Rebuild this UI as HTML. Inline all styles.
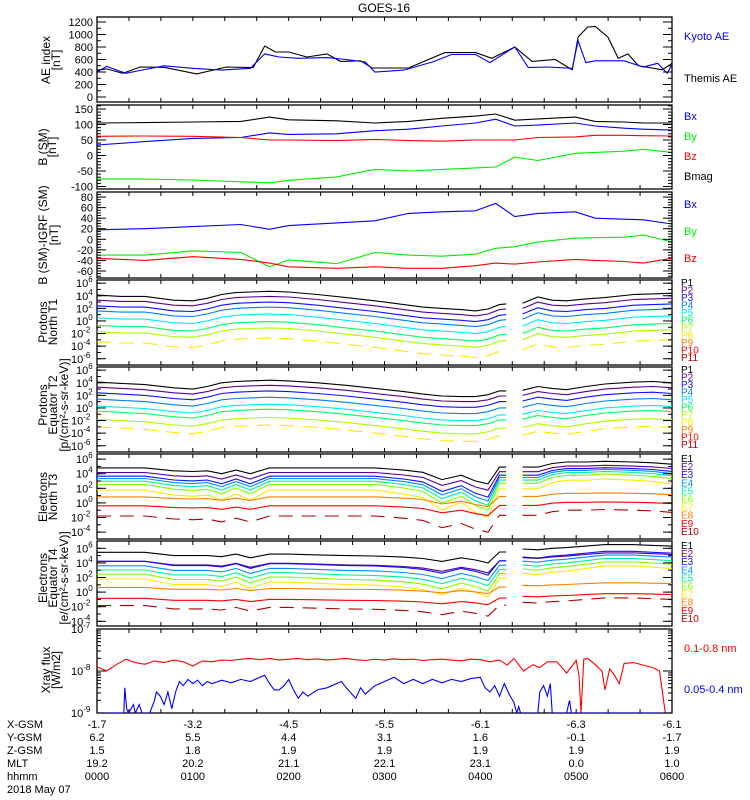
<!DOCTYPE html>
<html><head><meta charset="utf-8"><style>
html,body{margin:0;padding:0;background:#fff;}
svg{display:block;font-family:"Liberation Sans",sans-serif;}
</style></head><body>
<svg id="chart" width="750" height="800" viewBox="0 0 750 800" xmlns="http://www.w3.org/2000/svg"></svg>
<script>
// ---------- data ----------
const hours = [0,1,2,3,4,5,6];
const hhmmLabels = ["0000","0100","0200","0300","0400","0500","0600"];
const xgsm = ["-1.7","-3.2","-4.5","-5.5","-6.1","-6.3","-6.1"];
const ygsm = ["6.2","5.5","4.4","3.1","1.6","-0.1","-1.7"];
const zgsm = ["1.5","1.8","1.9","1.9","1.9","1.9","1.9"];
const mltLabels = ["19.2","20.2","21.1","22.1","23.1","0.0","1.0"];

const themisT = [0,0.1,0.27,0.45,0.7,1.04,1.35,1.63,1.75,1.86,2.0,2.19,2.4,2.54,2.75,2.87,3.25,3.63,3.95,4.12,4.36,4.54,4.78,4.96,5.02,5.12,5.2,5.33,5.44,5.54,5.65,5.9,6.0];
const themisAE = [430,450,380,480,475,370,480,470,816,720,720,640,690,570,580,464,464,710,710,620,800,570,600,435,960,1120,1130,960,620,690,500,435,540];
const kyotoT = [0,0.1,0.3,0.5,0.7,1.0,1.3,1.6,1.75,1.9,2.1,2.4,2.6,2.8,2.9,3.0,3.2,3.5,3.7,3.95,4.1,4.36,4.5,4.7,4.96,5.02,5.1,5.2,5.5,5.7,5.85,5.95,6.0];
const kyotoAE = [400,490,380,440,500,460,430,460,690,640,620,630,600,560,400,410,430,560,680,680,550,800,470,480,460,900,550,580,580,480,540,380,520];

const bT = [0,0.5,1,1.5,1.8,2,2.5,2.9,3.25,3.6,3.95,4.16,4.36,4.6,4.99,5.2,5.5,5.7,6];
const bmag = [105,106,108,110,124,115,112,105,110,120,127,134,114,118,124,110,108,105,105];
const bx = [34,45,55,58,73,68,70,80,85,95,105,117,95,98,105,95,88,85,82];
const by = [-76,-76,-79,-85,-88,-80,-69,-45,-50,-45,-40,-37,-5,-16,7,10,14,20,10];
const bz = [62,63,62,58,50,50,48,52,48,46,50,50,50,58,60,65,65,64,63];

const gx = [18,20,24,28,19,26,31,35,49,52,54,68,43,49,52,40,38,37,29];
const gy = [-30,-30,-22,-25,-52,-39,-46,-25,-30,-32,-28,-17,-14,-5,2,3,4,8,-5];
const gz = [-36,-40,-33,-38,-45,-52,-55,-52,-55,-55,-50,-45,-47,-43,-38,-40,-42,-45,-36];

const fluxT = [0,0.25,0.5,0.8,1.0,1.15,1.3,1.45,1.6,1.8,2.0,2.3,2.6,2.9,3.2,3.4,3.6,3.8,3.95,4.08,4.2,4.27,4.44,4.6,4.75,4.9,5.1,5.3,5.6,5.8,6.0];
const fluxGap = [4.27, 4.44];
const p1Base = [4.1,3.9,3.9,3.3,3.2,3.6,4.2,4.5,4.6,4.7,4.6,4.2,3.7,3.2,2.6,2.2,2.0,1.8,1.6,1.9,2.6,2.7,2.8,3.8,3.3,3.2,3.5,3.7,4.2,4.3,4.4];
const p2Base = [4.1,3.9,3.7,3.2,3.0,3.4,4.0,4.2,4.3,4.4,4.3,4.0,3.6,3.1,2.6,2.2,1.9,1.8,1.8,2.1,2.7,2.7,2.8,3.4,3.1,2.9,3.4,3.8,4.1,4.2,4.0];
const e3Base = [4.8,4.8,4.8,4.4,4.3,4.4,4.0,4.5,4.0,4.8,4.8,4.8,4.8,4.8,4.5,4.2,3.2,3.8,3.0,2.6,4.9,4.9,4.9,4.9,5.4,5.6,5.6,5.7,5.6,5.5,5.3];
const e4Base = [5.45,5.45,5.45,5.0,5.0,5.0,4.85,5.2,4.7,5.2,5.2,5.1,5.0,4.95,4.8,4.6,4.2,4.7,4.4,4.0,5.5,5.5,5.9,5.8,6.0,6.1,6.3,6.5,6.5,6.4,6.3];
const protonOffT1 = [0,0.8,1.7,2.5,3.6,4.8,5.8,7.4];
const protonOffT2 = [0,0.8,1.7,2.7,3.8,4.6,5.9,7.1];
const electronOffT3 = [0,0.64,1.14,1.46,1.83,2.28,3.05,3.97,5.2,6.6];
const electronOffT4 = [0,1.23,1.23,1.85,2.42,3.0,3.65,4.8,6.3,7.3];
const electronAmp = [1,1.1,1.3,1.4,1.5,1.6,1.7,0.6,0.6,1.0];

const xrT = [0,0.1,0.2,0.3,0.4,0.5,0.6,0.7,0.8,0.9,1.0,1.1,1.2,1.3,1.4,1.5,1.6,1.7,1.8,1.9,2.0,2.1,2.2,2.3,2.4,2.5,2.6,2.7,2.8,2.9,3.0,3.1,3.2,3.3,3.4,3.5,3.6,3.7,3.8,3.9,4.0,4.1,4.2,4.28,4.35,4.45,4.55,4.62,4.7,4.8,4.9,5.0,5.03,5.05,5.08,5.12,5.2,5.27,5.3,5.35,5.4,5.45,5.5,5.6,5.7,5.8,5.87,5.93,6.0];
const xrLong = [-7.9,-8.0,-7.85,-7.72,-7.8,-7.84,-7.76,-7.8,-7.74,-7.78,-7.88,-7.76,-7.78,-7.74,-7.75,-7.72,-7.7,-7.73,-7.7,-7.74,-7.72,-7.7,-7.73,-7.71,-7.74,-7.72,-7.7,-7.73,-7.75,-7.72,-7.74,-7.71,-7.73,-7.72,-7.75,-7.73,-7.72,-7.74,-7.76,-7.72,-7.73,-7.78,-7.74,-7.86,-7.7,-8.0,-7.85,-7.92,-7.78,-7.78,-8.05,-7.75,-8.1,-9,-7.72,-7.7,-7.85,-8.0,-8.45,-7.95,-8.1,-8.3,-7.82,-7.8,-7.86,-7.92,-8.0,-9,-9];
const xbT = [0,0.28,0.29,0.31,0.33,0.38,0.4,0.44,0.47,0.5,
 0.55,0.6,0.62,0.66,0.7,0.74,0.78,0.82,0.86,0.9,
 0.95,1.0,1.05,1.1,1.15,1.2,1.3,1.4,1.5,1.6,
 1.7,1.75,1.8,1.85,1.9,1.95,2.0,2.05,2.1,2.15,
 2.2,2.3,2.4,2.5,2.55,2.6,2.7,2.75,2.8,2.9,
 3.0,3.1,3.2,3.3,3.4,3.5,3.6,3.7,3.8,3.9,4.0,
 4.05,4.1,4.15,4.2,4.25,4.3,4.35,4.38,4.4,4.42,
 4.6,4.62,4.66,4.7,4.73,4.75,4.9,4.93,4.95,6.0];
const xrShort = [-9,-9,-8.4,-8.9,-9,-8.8,-9,-8.8,-9,-9,
 -9,-8.7,-8.5,-8.6,-8.8,-8.5,-8.9,-8.5,-8.25,-8.35,
 -8.2,-8.3,-8.22,-8.35,-8.25,-8.3,-8.22,-8.28,-8.2,-8.25,
 -8.15,-8.1,-8.3,-8.45,-8.45,-8.35,-8.2,-8.45,-8.65,-8.5,
 -8.6,-8.45,-8.4,-8.3,-8.25,-8.4,-8.65,-8.4,-8.55,-8.35,
 -8.25,-8.15,-8.3,-8.2,-8.3,-8.2,-8.28,-8.2,-8.25,-8.18,-8.15,
 -8.4,-8.5,-8.35,-8.6,-8.3,-8.55,-8.75,-9,-8.85,-9,
 -9,-8.5,-8.35,-8.6,-8.3,-9,-9,-8.7,-9,-9];

// ---------- helpers ----------
const NS = "http://www.w3.org/2000/svg";
const svg = document.getElementById('chart');
const X0 = 97, X1 = 672;
const xs = t => X0 + t * (X1 - X0) / 6;
function el(tag, attrs, parent) {
  const e = document.createElementNS(NS, tag);
  for (const k in attrs) e.setAttribute(k, attrs[k]);
  (parent || svg).appendChild(e);
  return e;
}
function txt(s, x, y, o, parent) {
  const t = el('text', Object.assign({x: x, y: y, 'font-size': 11, fill: '#000'}, o || {}), parent);
  t.textContent = s;
  return t;
}
function path(ts, vs, ysc, color, name, dash, gap) {
  let d = '';
  for (let i = 0; i < ts.length; i++) {
    const px = xs(ts[i]).toFixed(1), py = ysc(vs[i]).toFixed(1);
    const brk = i === 0 || (gap && ts[i - 1] <= gap[0] && ts[i] >= gap[1]);
    d += (brk ? 'M' : 'L') + px + ' ' + py + ' ';
  }
  const p = el('path', {d: d, fill: 'none', stroke: color, 'stroke-width': 1.1});
  if (dash) p.setAttribute('stroke-dasharray', dash);
  
  
  return p;
}
function frame(top, bot, name) {
  const g = el('g', {});
  
  
  const cp = el('clipPath', {id: 'clip-' + name}, g);
  el('rect', {x: X0, y: top, width: X1 - X0, height: bot - top}, cp);
  el('rect', {x: X0, y: top, width: X1 - X0, height: bot - top, fill: 'none', stroke: '#000', 'stroke-width': 1.3}, g);
  for (let m = 20; m < 360; m += 20) {
    const x = xs(m / 60);
    el('line', {x1: x, x2: x, y1: bot, y2: bot - 4, stroke: '#000'}, g);
    el('line', {x1: x, x2: x, y1: top, y2: top + 4, stroke: '#000'}, g);
  }
  const data = el('g', {'clip-path': 'url(#clip-' + name + ')'}, g);
  return {g: g, data: data};
}
function yticks(g, vals, ysc, labels, minor, top, bot) {
  minor.forEach(v => {
    const y = ysc(v);
    if (y < top || y > bot) return;
    el('line', {x1: X0, x2: X0 + 4, y1: y, y2: y, stroke: '#000'}, g);
    el('line', {x1: X1, x2: X1 - 4, y1: y, y2: y, stroke: '#000'}, g);
  });
  vals.forEach((v, i) => {
    const y = ysc(v);
    el('line', {x1: X0, x2: X0 + 9, y1: y, y2: y, stroke: '#000'}, g);
    el('line', {x1: X1, x2: X1 - 9, y1: y, y2: y, stroke: '#000'}, g);
    const l = labels[i];
    if (labels.isLog) {
      const t = txt('10', 92 - 11 - String(l).length * 5, y + 4, {'font-size': 11}, g);
      const s = el('tspan', {dy: -5, 'font-size': 8}, t); s.textContent = l;
      
      
    } else {
      const t = txt(String(l), 93, y + 4, {'text-anchor': 'end'}, g);
      
      
    }
  });
}
function ylabel(lines, cy, xs0, g) {
  lines.forEach((s, i) => {
    const x = xs0[i];
    const t = txt(s, x, cy, {'text-anchor': 'middle', transform: 'rotate(-90 ' + x + ' ' + cy + ')', 'font-size': 12}, g);
    
    
  });
}
function legend(items, x, y0, dy, size, g) {
  items.forEach((it, i) => {
    const t = txt(it[0], x, y0 + i * dy, {fill: it[1], 'font-size': size}, g);
    
    
  });
}

// ---------- title ----------
const title = txt('GOES-16', 384, 12, {'text-anchor': 'middle', 'font-size': 12});



// ---------- panel 1: AE ----------
(function(){
  const top = 17, bot = 102;
  const ys = v => 97 - v * 0.0625;
  const f = frame(top, bot, 'ae-panel');
  const mins = []; for (let v = 0; v <= 1300; v += 100) mins.push(v);
  yticks(f.g, [0,200,400,600,800,1000,1200], ys, [0,200,400,600,800,1000,1200], mins, top, bot);
  f.data.appendChild(path(themisT, themisAE, ys, '#000', 'themis-ae-line'));
  f.data.appendChild(path(kyotoT, kyotoAE, ys, '#0000ff', 'kyoto-ae-line'));
  ylabel(['AE index', '[nT]'], 60, [50, 60], f.g);
  legend([['Kyoto AE', '#0000ff'], ['Themis AE', '#000']], 684, 40, 42, 11, f.g);
})();

// ---------- panel 2: B SM ----------
(function(){
  const top = 105, bot = 189;
  const ys = v => 155.5 - v * 0.31;
  const f = frame(top, bot, 'b-sm-panel');
  const mins = []; for (let v = -100; v <= 160; v += 10) mins.push(v);
  yticks(f.g, [-100,-50,0,50,100,150], ys, [-100,-50,0,50,100,150], mins, top, bot);
  f.data.appendChild(path(bT, bmag, ys, '#000', 'bmag-line'));
  f.data.appendChild(path(bT, bx, ys, '#0000ff', 'bx-line'));
  f.data.appendChild(path(bT, bz, ys, '#ff0000', 'bz-line'));
  f.data.appendChild(path(bT, by, ys, '#00ee00', 'by-line'));
  ylabel(['B (SM)', '[nT]'], 147, [47, 56], f.g);
  legend([['Bx', '#0000ff'], ['By', '#00ee00'], ['Bz', '#ff0000'], ['Bmag', '#000']], 684, 120, 20, 11, f.g);
})();

// ---------- panel 3: B-IGRF ----------
(function(){
  const top = 192, bot = 278;
  const ys = v => 239.3 - v * 0.528;
  const f = frame(top, bot, 'b-igrf-panel');
  const mins = []; for (let v = -70; v <= 90; v += 5) mins.push(v);
  yticks(f.g, [-60,-40,-20,0,20,40,60,80], ys, [-60,-40,-20,0,20,40,60,80], mins, top, bot);
  f.data.appendChild(path(bT, gx, ys, '#0000ff', 'bx-igrf-line'));
  f.data.appendChild(path(bT, gy, ys, '#00ee00', 'by-igrf-line'));
  f.data.appendChild(path(bT, gz, ys, '#ff0000', 'bz-igrf-line'));
  ylabel(['B (SM)-IGRF (SM)', '[nT]'], 235, [47, 58], f.g);
  legend([['Bx', '#0000ff'], ['By', '#00ee00'], ['Bz', '#ff0000']], 684, 208, 27, 11, f.g);
})();

// ---------- flux panels ----------
const pColors = ['#000','#5a0090','#1010ff','#0080ff','#00e8ff','#00ff60','#a8ff00','#ffe800','#ff8000','#ff0000','#b00000'];
const eColors = ['#000','#5a0090','#1010ff','#0090ff','#00f0a0','#80ff00','#ffe800','#ff8000','#ff0000','#b00000'];
function logTicks(g, ys, top, bot, vals) {
  const lab = vals.slice(); lab.isLog = true;
  const mins = []; for (let v = -8; v <= 8; v++) mins.push(v);
  yticks(g, vals, ys, lab, mins, top, bot);
}
function fluxPanel(top, bot, name, ys, base, offs, amps, colors, tickVals, legendNames, legY0, legDy, fragStart) {
  const f = frame(top, bot, name);
  logTicks(f.g, ys, top, bot, tickVals);
  offs.forEach((o, c) => {
    const vals = base.map(b => base[0] - o + (amps ? amps[c] : 1) * (b - base[0]));
    const dash = c >= fragStart ? '14 9' : null;
    f.data.appendChild(path(fluxT, vals, ys, colors[c], name + '-channel-' + (c + 1), dash, fluxGap));
  });
  legend(legendNames.map((n, i) => [n, colors[i]]), 681, legY0, legDy, 10, f.g);
  return f;
}
const pNames = ['P1','P2','P3','P4','P5','P6','P7','P8','P9','P10','P11'];
const eNames = ['E1','E2','E3','E4','E5','E6','E7','E8','E9','E10'];
const f4 = fluxPanel(280, 365, 'protons-north-t1', l => 280 + (6.5 - l) * 6.3, p1Base, protonOffT1, null, pColors, [6,4,2,0,-2,-4,-6], pNames, 286, 7.5, 7);
ylabel(['Protons', 'North T1'], 322, [47, 57], f4.g);
const f5 = fluxPanel(367, 452, 'protons-equator-t2', l => 367 + (6.5 - l) * 6.3, p2Base, protonOffT2, null, pColors, [6,4,2,0,-2,-4,-6], pNames, 373, 7.5, 7);
ylabel(['Protons', 'Equator T2', '[p/(cm²-s-sr-keV)]'], 405, [47, 57, 68], f5.g);
const f6 = fluxPanel(454, 539, 'electrons-north-t3', l => 454 + (6.7 - l) * 7.3, e3Base, electronOffT3, electronAmp, eColors, [6,4,2,0,-2,-4], eNames, 462, 8.1, 9);
ylabel(['Electrons', 'North T3'], 497, [47, 57], f6.g);
const f7 = fluxPanel(541, 626, 'electrons-equator-t4', l => 541 + (7 - l) * 7.3, e4Base, electronOffT4, electronAmp, eColors, [6,4,2,0,-2,-4], eNames, 549, 8.1, 9);
ylabel(['Electrons', 'Equator T4', '[e/(cm²-s-sr-keV)]'], 578, [47, 57, 68], f7.g);

// ---------- panel 8: xray ----------
(function(){
  const top = 629, bot = 713;
  const ys = l => 629 + (-7 - l) * 42;
  const f = frame(top, bot, 'xray-panel');
  const lab = [-7,-8,-9]; lab.isLog = true;
  const mins = [];
  for (let d = -9; d < -7; d++) for (let k = 2; k <= 9; k++) mins.push(d + Math.log10(k));
  yticks(f.g, [-7,-8,-9], ys, lab, mins, top, bot);
  f.data.appendChild(path(xrT, xrLong, ys, '#ff0000', 'xray-long-line'));
  f.data.appendChild(path(xbT, xrShort, ys, '#0000ff', 'xray-short-line'));
  ylabel(['Xray flux', '[W/m2]'], 670, [50, 60], f.g);
  legend([['0.1-0.8 nm', '#ff0000'], ['0.05-0.4 nm', '#0000ff']], 684, 652, 41, 11, f.g);
})();

// ---------- bottom annotation ----------
const rows = [['X-GSM', xgsm, 728], ['Y-GSM', ygsm, 741], ['Z-GSM', zgsm, 754], ['MLT', mltLabels, 767], ['hhmm', hhmmLabels, 780]];
rows.forEach(r => {
  const t = txt(r[0], 7, r[2], {'font-size': 11});
  
  
  r[1].forEach((v, i) => {
    const tv = txt(v, xs(hours[i]), r[2], {'text-anchor': 'middle', 'font-size': 11});
    
    
  });
});
const dt = txt('2018 May 07', 7, 793, {'font-size': 11});


</script>
</body></html>
